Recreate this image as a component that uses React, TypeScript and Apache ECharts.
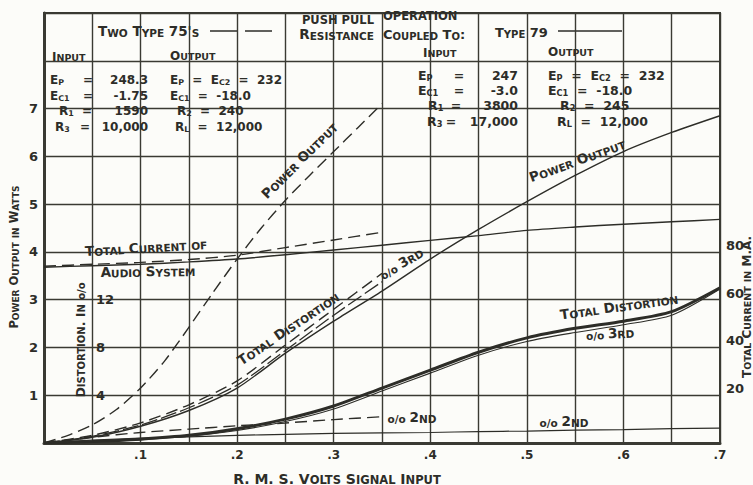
import React, { useEffect, useRef } from 'react';
import * as echarts from 'echarts';

// ---------- data ----------
const signal = [0, 0.05, 0.1, 0.15, 0.2, 0.25, 0.3, 0.35, 0.4, 0.45, 0.5, 0.55, 0.6, 0.65, 0.7];
const signal75 = [0, 0.05, 0.1, 0.15, 0.2, 0.25, 0.3, 0.35];
const signal75Fine = [0, 0.025, 0.05, 0.075, 0.1, 0.125, 0.15, 0.175, 0.2, 0.225, 0.25, 0.275, 0.3, 0.325, 0.35];

// Two Type 75's (dashed)
const power75 = [0, 0.16, 0.38, 0.7, 1.15, 1.72, 2.42, 3.15, 3.85, 4.5, 5.08, 5.6, 6.1, 6.6, 7.1]; // watts
const current75 = [74, 74.8, 75.6, 76.8, 78.6, 81.8, 85, 88.2]; // mA
const totalDist75 = [0, 0.64, 1.68, 3.2, 5.2, 8.2, 11.2, 14.2]; // %
const third75 = [0, 0.56, 1.5, 2.95, 4.85, 7.75, 10.7, 13.5]; // %
const second75 = [0, 0.48, 0.88, 1.16, 1.44, 1.68, 1.96, 2.2]; // %

// Type 79 (solid)
const power79 = [0, 0.12, 0.35, 0.68, 1.15, 1.88, 2.55, 3.18, 3.85, 4.47, 5.05, 5.6, 6.1, 6.5, 6.85]; // watts
const current79 = [73.6, 74.2, 74.8, 75.8, 77, 78.8, 80.8, 82.8, 84.8, 86.8, 89, 90.4, 91.6, 92.6, 93.6]; // mA
const totalDist79 = [0, 0.12, 0.32, 0.64, 1.2, 2.0, 3.1, 4.6, 6.1, 7.6, 8.8, 9.6, 10.2, 11.0, 13.0]; // %
const third79 = [0, 0.1, 0.28, 0.56, 1.05, 1.8, 2.85, 4.35, 5.85, 7.35, 8.5, 9.25, 9.9, 10.7, 12.9]; // %
const second79 = [0, 0.24, 0.4, 0.52, 0.64, 0.72, 0.8, 0.84, 0.88, 0.96, 1.0, 1.08, 1.12, 1.2, 1.24]; // %

// tick labels
const signalTickLabels = ['.1', '.2', '.3', '.4', '.5', '.6', '.7'];
const powerTickLabels = ['1', '2', '3', '4', '5', '6', '7'];
const currentTickLabels = ['20', '40', '60', '80'];
const distortionTickLabels = ['4', '8', '12'];

// operating-condition table texts
const condLabels = ['E_P', 'E_C1', 'R_1', 'R_3'];
const input75Values = ['248.3', '-1.75', '1590', '10,000'];
const output75Lines = ['E_P  =  E_C2  =  232', 'E_C1  =  -18.0', 'R_2  =  240', 'R_L  =  12,000'];
const input79Values = ['247', '-3.0', '3800', '17,000'];
const output79Lines = ['E_P  =  E_C2  =  232', 'E_C1  =  -18.0', 'R_2  =  245', 'R_L  =  12,000'];

// ---------- styling helpers ----------
const FONT = 'DejaVu Sans';
const INK = '#2d2d28';
const GRIDC = '#3a3a33';

function sc(s: string): string {
  let out = '';
  let cur = '';
  let mode = '';
  const flush = () => {
    if (cur) out += `{${mode}|${cur}}`;
    cur = '';
  };
  for (const ch of s) {
    const m = ch >= 'a' && ch <= 'z' ? 's' : 'b';
    if (m !== mode) {
      flush();
      mode = m;
    }
    cur += m === 's' ? ch.toUpperCase() : ch;
  }
  flush();
  return out;
}

function subs(s: string): string {
  return s
    .split(/(_[A-Z0-9]+)/)
    .filter((p) => p.length > 0)
    .map((p) => (p.startsWith('_') ? `{u|${p.slice(1)}}` : `{n|${p}}`))
    .join('');
}

const capsRich = (big: number, small: number) => ({
  b: { fontSize: big, fontWeight: 'bold', fontFamily: FONT, fill: INK, verticalAlign: 'bottom', lineHeight: big + 1 },
  s: { fontSize: small, fontWeight: 'bold', fontFamily: FONT, fill: INK, verticalAlign: 'bottom', lineHeight: small + 1 },
});

const tableRich = (size: number) => ({
  n: { fontSize: size, fontWeight: 'bold', fontFamily: FONT, fill: INK, lineHeight: size + 1 },
  u: { fontSize: size * 0.66, fontWeight: 'bold', fontFamily: FONT, fill: INK, verticalAlign: 'bottom', lineHeight: size * 0.5 },
});

function buildGraphic(): any[] {
  const g: any[] = [];
  const T = (x: number, y: number, text: string, rich: any, align = 'center', rot = 0) => {
    g.push({
      type: 'text',
      x,
      y,
      rotation: (rot * Math.PI) / 180,
      silent: true,
      z: 10,
      style: { text, rich, align, verticalAlign: 'middle', fill: INK, fontFamily: FONT, fontWeight: 'bold', fontSize: 11 },
    });
  };
  const head = capsRich(13, 10);
  const headSmall = capsRich(12, 9.5);
  const lab = capsRich(13.5, 10.5);
  const axisLab = capsRich(11.5, 9);

  // header
  T(98, 31, sc("Two Type 75's"), capsRich(13.5, 10.5), 'left');
  g.push({ type: 'line', shape: { x1: 210, y1: 31, x2: 272, y2: 31 }, style: { stroke: INK, lineWidth: 1.5, lineDash: [27, 8] } });
  T(52, 56, sc('Input'), headSmall, 'left');
  T(170, 55, sc('Output'), headSmall, 'left');
  T(374, 20, '{b|PUSH PULL}', capsRich(11.5, 9), 'right');
  T(383, 16, '{b|OPERATION}', capsRich(11.5, 9), 'left');
  T(374, 34, sc('Resistance'), capsRich(13.5, 10.5), 'right');
  T(383, 34, sc('Coupled To:'), head, 'left');
  T(495, 32, sc('Type 79'), head, 'left');
  g.push({ type: 'line', shape: { x1: 558, y1: 31, x2: 622, y2: 31 }, style: { stroke: INK, lineWidth: 1.5 } });
  T(423, 52, sc('Input'), headSmall, 'left');
  T(548, 51, sc('Output'), headSmall, 'left');

  // left table (Two Type 75's)
  const tL = tableRich(12);
  const yL = [80, 96, 111, 127];
  const labXL = [50, 50, 59, 55];
  const eqXL = [88, 88, 87, 85];
  const outXL = [170, 170, 177, 175];
  condLabels.forEach((l, i) => {
    T(labXL[i], yL[i], subs(l), tL, 'left');
    T(eqXL[i], yL[i], '{n|=}', tL, 'center');
    T(148, yL[i], `{n|${input75Values[i]}}`, tL, 'right');
    T(outXL[i], yL[i], subs(output75Lines[i]), tL, 'left');
  });

  // right table (Type 79)
  const tR = tableRich(12.5);
  const yR = [75, 90, 105, 121];
  const labXR = [418, 418, 428, 427];
  const eqXR = [459, 459, 456, 451];
  const outXR = [548, 548, 560, 557];
  condLabels.forEach((l, i) => {
    T(labXR[i], yR[i], subs(l), tR, 'left');
    T(eqXR[i], yR[i], '{n|=}', tR, 'center');
    T(518, yR[i], `{n|${input79Values[i]}}`, tR, 'right');
    T(outXR[i], yR[i], subs(output79Lines[i]), tR, 'left');
  });

  // curve labels
  T(299, 160, sc('Power Output'), lab, 'center', 45);
  T(146, 247, sc('Total Current of'), lab, 'center', 3.5);
  T(148, 271, sc('Audio System'), lab, 'center', 1);
  T(288, 328, sc('Total Distortion'), lab, 'center', 34);
  T(401, 263, '{s|o/o} ' + sc('3rd'), lab, 'center', 31);
  T(577, 160, sc('Power Output'), lab, 'center', 20);
  T(619, 306, sc('Total Distortion'), lab, 'center', 8);
  T(610, 333, '{s|o/o} ' + sc('3rd'), lab, 'center', 3);
  T(412, 417, '{s|o/o} ' + sc('2nd'), lab, 'center', 0);
  T(564, 421, '{s|o/o} ' + sc('2nd'), lab, 'center', 0);
  T(80, 340, sc('Distortion. In ') + '{s|o/o}', capsRich(12.5, 10), 'center', 90);

  // axis titles
  T(14, 257, sc('Power Output in Watts'), axisLab, 'center', 90);
  T(746, 307, sc('Total Current in M.A.'), capsRich(12, 9.5), 'center', 90);
  T(337, 478, sc('R. M. S. Volts Signal Input'), capsRich(14, 11.5), 'center', 0);
  return g;
}

function zip(xs: number[], ys: number[]) {
  return xs.map((x, i) => [x, ys[i]]);
}

function line(name: string, data: number[][], yAxisIndex: number, dashed: boolean, width = 1.4, dash: number[] = [12, 6]) {
  return {
    name,
    type: 'line',
    yAxisIndex,
    data,
    smooth: 0.25,
    showSymbol: false,
    silent: true,
    z: 5,
    lineStyle: { color: INK, width, type: dashed ? dash : 'solid' },
  };
}

export default function App() {
  const ref = useRef<HTMLDivElement>(null);
  useEffect(() => {
    if (!ref.current) return;
    const chart = echarts.init(ref.current, undefined, { renderer: 'svg' });
    const labelText = { color: INK, fontFamily: FONT, fontWeight: 'bold' as const };
    chart.setOption({
      animation: false,
      backgroundColor: '#fcfcf9',
      grid: { left: 44, right: 33, top: 13, bottom: 42, show: true, borderColor: GRIDC, borderWidth: 2, backgroundColor: 'transparent' },
      xAxis: {
        type: 'value',
        min: 0,
        max: 0.7,
        interval: 0.05,
        axisLine: { show: true, lineStyle: { color: GRIDC, width: 3 } },
        axisTick: { show: false },
        splitLine: { show: true, lineStyle: { color: GRIDC, width: 1.4 } },
        axisLabel: {
          ...labelText,
          fontSize: 12,
          margin: 6,
          formatter: (v: number) => {
            const k = Math.round(v * 10);
            const lbl = '.' + k;
            return Math.abs(v * 10 - k) < 1e-6 && signalTickLabels.includes(lbl) ? lbl : '';
          },
        },
      },
      yAxis: [
        {
          type: 'value',
          min: 0,
          max: 9,
          interval: 1,
          position: 'left',
          axisLine: { show: true, lineStyle: { color: GRIDC, width: 3 } },
          axisTick: { show: false },
          splitLine: { show: true, lineStyle: { color: GRIDC, width: 1.4 } },
          axisLabel: {
            ...labelText,
            fontSize: 13,
            margin: 6,
            verticalAlign: 'middle',
            formatter: (v: number) => (powerTickLabels.includes(String(v)) ? String(v) : ''),
          },
        },
        {
          type: 'value',
          min: 0,
          max: 180,
          interval: 20,
          position: 'right',
          axisLine: { show: true, lineStyle: { color: GRIDC, width: 2 } },
          axisTick: { show: false },
          splitLine: { show: false },
          axisLabel: {
            ...labelText,
            fontSize: 13,
            margin: 6,
            verticalAlign: 'bottom',
            formatter: (v: number) => (currentTickLabels.includes(String(v)) ? String(v) : ''),
          },
        },
        {
          type: 'value',
          min: 0,
          max: 36,
          interval: 4,
          position: 'left',
          offset: -48,
          axisLine: { show: false },
          axisTick: { show: false },
          splitLine: { show: false },
          axisLabel: {
            ...labelText,
            fontSize: 13,
            inside: true,
            margin: 4,
            verticalAlign: 'middle',
            formatter: (v: number) => (distortionTickLabels.includes(String(v)) ? String(v) : ''),
          },
        },
      ],
      series: [
        line("Power Output (Two Type 75's)", zip(signal75Fine, power75), 0, true),
        line("Total Current (Two Type 75's)", zip(signal75, current75), 1, true),
        line("Total Distortion (Two Type 75's)", zip(signal75, totalDist75), 2, true),
        line("3rd Harmonic (Two Type 75's)", zip(signal75, third75), 2, true, 1.3, [16, 4]),
        line("2nd Harmonic (Two Type 75's)", zip(signal75, second75), 2, true),
        line('Power Output (Type 79)', zip(signal, power79), 0, false),
        line('Total Current (Type 79)', zip(signal, current79), 1, false),
        line('Total Distortion (Type 79)', zip(signal, totalDist79), 2, false, 3),
        line('3rd Harmonic (Type 79)', zip(signal, third79), 2, false, 1.1),
        line('2nd Harmonic (Type 79)', zip(signal, second79), 2, false, 1.2),
      ],
      graphic: buildGraphic(),
    });
    return () => chart.dispose();
  }, []);
  return <div ref={ref} style={{ position: 'fixed', left: 0, top: 0, width: 753, height: 485 }} />;
}
